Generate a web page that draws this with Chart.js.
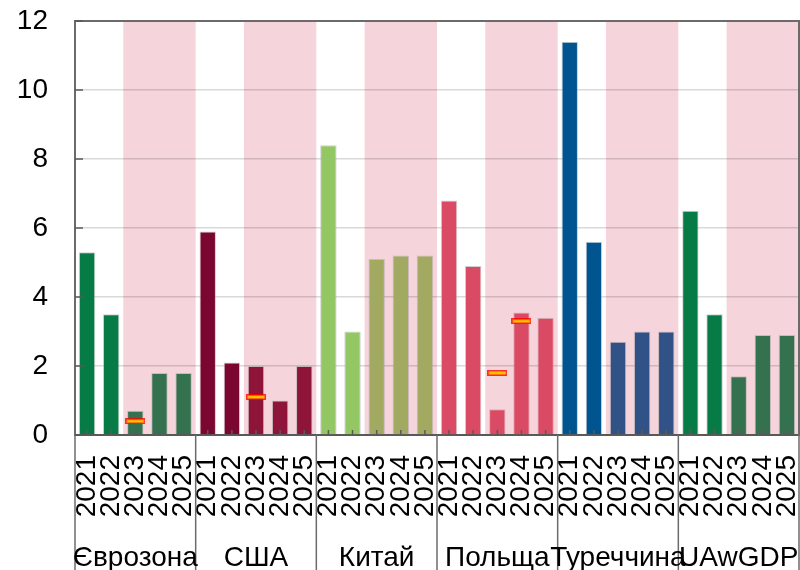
<!DOCTYPE html>
<html>
<head>
<meta charset="utf-8">
<script src="https://cdn.jsdelivr.net/npm/chart.js@4"></script>
<style>
  html, body { margin: 0; padding: 0; background: #fff; }
  #wrap { width: 800px; height: 570px; }
</style>
</head>
<body>
<div id="wrap"><canvas id="chart"></canvas></div>
<script>
const groups = ["Єврозона", "США", "Китай", "Польща", "Туреччина", "UAwGDP"];
const years = ["2021", "2022", "2023", "2024", "2025"];

const euro = [5.3, 3.5, 0.7, 1.8, 1.8];
const usa = [5.9, 2.1, 2.0, 1.0, 2.0];
const china = [8.4, 3.0, 5.1, 5.2, 5.2];
const poland = [6.8, 4.9, 0.75, 3.55, 3.4];
const turkey = [11.4, 5.6, 2.7, 3.0, 3.0];
const ukraine = [6.5, 3.5, 1.7, 2.9, 2.9];

// earlier forecast (yellow markers)
const euroMark = [null, null, 0.4, null, null];
const usaMark = [null, null, 1.1, null, null];
const chinaMark = [null, null, null, null, null];
const polandMark = [null, null, 1.8, 3.3, null];
const turkeyMark = [null, null, null, null, null];
const ukraineMark = [null, null, null, null, null];

const yTicks = [0, 2, 4, 6, 8, 10, 12];

// [fact, forecast] colours per group
const colors = [
    ["#077B45", "#33714F"],
    ["#7B0630", "#8E1439"],
    ["#93C764", "#A2AA62"],
    ["#DB4A64", "#DB4A64"],
    ["#00548F", "#305287"],
    ["#077B45", "#33714F"]
];

const series = [euro, usa, china, poland, turkey, ukraine];
const marks = [euroMark, usaMark, chinaMark, polandMark, turkeyMark, ukraineMark];

let labels = [];
let values = [];
let markValues = [];
let barColors = [];

series.forEach((s, g) => {
    s.forEach((v, i) => {
        labels.push(years[i]);
        values.push(v);
        markValues.push(marks[g][i]);
        barColors.push(i < 2 ? colors[g][0] : colors[g][1]);
    });
});

// marker image: orange bar with red edge
const mark = document.createElement("canvas");
mark.width = 20;
mark.height = 6;
const mctx = mark.getContext("2d");
mctx.fillStyle = "rgba(255,0,0,0.8)";
mctx.fillRect(0, 0, 20, 6);
mctx.fillStyle = "#FFC000";
mctx.fillRect(1.5, 1.5, 17, 3);

const FONT = "'Liberation Sans', Arial, sans-serif";
const SIZE = 28;

const decor = {
    id: "decor",
    beforeDraw(chart) {
        const c = chart.ctx;
        const x = chart.scales.x;
        const a = chart.chartArea;
        const half = (x.getPixelForValue(1) - x.getPixelForValue(0)) / 2;
        c.save();
        c.fillStyle = "#F5D5DB";
        for (let g = 0; g < groups.length; g++) {
            const x0 = x.getPixelForValue(g * 5 + 2) - half;
            const x1 = x.getPixelForValue(g * 5 + 4) + half;
            c.fillRect(x0, a.top, x1 - x0, a.bottom - a.top);
        }
        c.restore();
    },
    afterDraw(chart) {
        const c = chart.ctx;
        const x = chart.scales.x;
        const y = chart.scales.y;
        const a = chart.chartArea;
        const half = (x.getPixelForValue(1) - x.getPixelForValue(0)) / 2;
        c.save();
        c.strokeStyle = "#6b6b6b";
        c.lineWidth = 2;
        // frame
        c.beginPath();
        c.moveTo(a.left, a.bottom);
        c.lineTo(a.left, a.top);
        c.lineTo(a.right, a.top);
        c.lineTo(a.right, a.bottom);
        c.stroke();
        // group separators under axis
        c.lineWidth = 1.5;
        for (let g = 0; g <= groups.length; g++) {
            let px = g < groups.length ? x.getPixelForValue(g * 5) - half : x.getPixelForValue(g * 5 - 1) + half;
            px = Math.min(Math.max(px, a.left), a.right);
            c.beginPath();
            c.moveTo(px, a.bottom);
            c.lineTo(px, chart.height);
            c.stroke();
        }
        // inner ticks
        c.strokeStyle = "#595959";
        yTicks.forEach(t => {
            const py = y.getPixelForValue(t);
            c.beginPath();
            c.moveTo(a.left, py);
            c.lineTo(a.left + 8, py);
            c.stroke();
        });
        for (let i = 0; i < labels.length; i++) {
            const px = x.getPixelForValue(i);
            c.beginPath();
            c.moveTo(px, a.bottom - 5);
            c.lineTo(px, a.bottom);
            c.stroke();
        }
        // group names
        c.fillStyle = "#000";
        c.font = SIZE + "px " + FONT;
        c.textAlign = "center";
        c.textBaseline = "alphabetic";
        groups.forEach((name, g) => {
            const cx = (x.getPixelForValue(g * 5) + x.getPixelForValue(g * 5 + 4)) / 2;
            c.fillText(name, cx, a.bottom + 131);
        });
        c.restore();
    }
};

const ctx = document.getElementById("chart");

const chart = new Chart(ctx, {
    type: "bar",
    data: {
        labels: labels,
        datasets: [{
            type: "line",
            data: markValues,
            showLine: false,
            pointStyle: mark,
            pointRadius: 10,
            order: 0
        }, {
            data: values,
            backgroundColor: barColors,
            borderColor: "rgba(160,160,160,0.5)",
            borderWidth: 1,
            barPercentage: 0.68,
            categoryPercentage: 1,
            order: 1
        }]
    },
    plugins: [decor],
    options: {
        responsive: true,
        maintainAspectRatio: false,
        animation: false,
        layout: { autoPadding: false, padding: { top: 21, right: 1, left: 0, bottom: 0 } },
        plugins: {
            legend: { display: false },
            tooltip: { enabled: false }
        },
        scales: {
            x: {
                offset: true,
                grid: { display: false, drawTicks: true, tickLength: 20 },
                border: { display: true, color: "#595959", width: 2 },
                ticks: {
                    autoSkip: false,
                    minRotation: 90,
                    maxRotation: 90,
                    padding: 0,
                    color: "#000",
                    font: { family: FONT, size: SIZE }
                },
                afterFit: s => {
                    s.height = 135;
                    s.paddingLeft = 0;
                    s.paddingRight = 0;
                }
            },
            y: {
                min: 0,
                max: 12,
                grid: { color: "rgba(0,0,0,0.15)", lineWidth: 1.5, drawTicks: false },
                border: { display: false },
                afterBuildTicks: s => { s.ticks = yTicks.map(v => ({ value: v })); },
                ticks: {
                    padding: 27,
                    color: "#000",
                    font: { family: FONT, size: SIZE }
                },
                afterFit: s => {
                    s.width = 75;
                    s.paddingTop = 0;
                    s.paddingBottom = 0;
                }
            }
        }
    }
});
</script>
</body>
</html>
